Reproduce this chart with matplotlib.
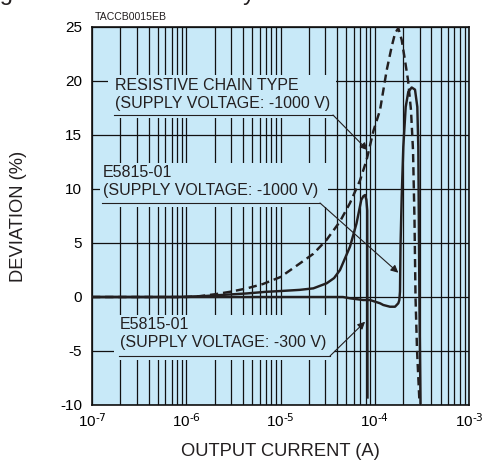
import matplotlib
matplotlib.use("Agg")
import matplotlib.pyplot as plt
from matplotlib.patches import Rectangle
from matplotlib.lines import Line2D
from matplotlib.ticker import LogLocator, NullFormatter, FixedLocator, FixedFormatter

plt.rcParams['font.family'] = ['Liberation Sans', 'DejaVu Sans']
plt.rcParams['mathtext.default'] = 'regular'
plt.rcParams['axes.unicode_minus'] = False

# resistive chain type, -1000 V (dashed)
res_x = [1e-7, 1e-6, 1.3e-6, 2e-6, 3e-6, 4.4e-6, 6.5e-6, 1e-5, 1.6e-5, 2.23e-5, 3.09e-5,
         4.28e-5, 5.46e-5, 6.98e-5, 8.2e-5, 9.7e-5, 1.137e-4, 1.339e-4, 1.514e-4, 1.64e-4,
         1.778e-4, 1.932e-4, 2.094e-4, 2.253e-4, 2.424e-4, 2.546e-4, 2.641e-4, 2.707e-4,
         2.808e-4, 2.984e-4]
res_y = [0, 0, 0.05, 0.25, 0.5, 0.8, 1.2, 1.85, 3.1, 4.0, 5.3,
         7.0, 8.7, 10.8, 12.7, 15.4, 17.3, 21.0, 23.2, 24.4,
         24.9, 23.8, 21.9, 20.1, 17.3, 13.6, 7.1, 0,
         -4.9, -9.8]

# E5815-01, -1000 V
e1000_x = [1e-7, 1e-5, 4.6e-5, 5.46e-5, 7.56e-5, 8.9e-5, 1.137e-4, 1.232e-4, 1.451e-4,
           1.64e-4, 1.778e-4, 1.822e-4, 1.853e-4, 1.876e-4, 1.932e-4, 2.009e-4, 2.13e-4,
           2.27e-4, 2.466e-4, 2.674e-4, 2.829e-4, 2.898e-4, 2.948e-4, 2.984e-4, 3.058e-4]
e1000_y = [0, 0, 0, -0.12, -0.28, -0.28, -0.58, -0.74, -0.9,
           -0.9, -0.58, -0.3, 0.5, 4.66, 9.3, 13.9, 17.6,
           19.0, 19.4, 19.2, 17.6, 13.9, 5.0, -1.2, -9.8]

# E5815-01, -300 V
e300_x = [1e-7, 8e-7, 1.5e-6, 2.5e-6, 4.4e-6, 7e-6, 9.9e-6, 1.6e-5, 2.23e-5, 3.09e-5,
          3.7e-5, 4.28e-5, 5.46e-5, 6.4e-5, 7.2e-5, 7.6e-5, 7.9e-5, 8.15e-5, 8.33e-5,
          8.36e-5, 8.38e-5]
e300_y = [0, 0, 0.08, 0.2, 0.33, 0.48, 0.55, 0.66, 0.8, 1.27,
          1.75, 2.5, 4.66, 6.8, 9.0, 9.35, 9.44, 9.0, 8.0,
          0, -9.3]

x_ticks = [1e-7, 1e-6, 1e-5, 1e-4, 1e-3]
x_labels = [r'$10^{\text{-7}}$', r'$10^{\text{-6}}$', r'$10^{\text{-5}}$',
            r'$10^{\text{-4}}$', r'$10^{\text{-3}}$']
y_ticks = [-10, -5, 0, 5, 10, 15, 20, 25]

bg = '#c8e9f8'
ink = '#231f20'

fig = plt.figure(figsize=(4.82, 4.62), dpi=100)
ax = fig.add_axes([92 / 482, 57 / 462, 377 / 482, 378 / 462])
ax.set_facecolor(bg)
ax.set_xscale('log')
ax.set_xlim(1e-7, 1e-3)
ax.set_ylim(-10, 25)
ax.set_yticks(y_ticks)
ax.xaxis.set_major_locator(FixedLocator(x_ticks))
ax.xaxis.set_major_formatter(FixedFormatter(x_labels))
ax.xaxis.set_minor_locator(LogLocator(base=10, subs=range(2, 10), numticks=50))
ax.xaxis.set_minor_formatter(NullFormatter())
ax.tick_params(which='both', length=0, labelsize=11)
ax.tick_params(axis='y', pad=7)
ax.tick_params(axis='x', pad=5)
ax.set_axisbelow(True)
ax.grid(True, which='both', axis='x', color='#111111', lw=0.9)
ax.grid(True, which='major', axis='y', color='#111111', lw=0.9)
for s in ax.spines.values():
    s.set_linewidth(1.2)
    s.set_color('#111111')


def px2ax(xp, yp):
    return ((xp - 92) / 377, (405 - yp) / 378)


# label boxes that hide the grid
for x0, y0, x1, y1 in [(108, 75, 336, 118), (100, 163, 328, 207), (114, 315, 334, 360)]:
    a = px2ax(x0, y1)
    b = px2ax(x1, y0)
    ax.add_patch(Rectangle(a, b[0] - a[0], b[1] - a[1], transform=ax.transAxes,
                           facecolor=bg, edgecolor='none', zorder=1))

ax.plot(res_x, res_y, color=ink, lw=1.75, dashes=(3.4, 2.0), zorder=3)
ax.plot(e1000_x, e1000_y, color=ink, lw=1.75, zorder=3)
ax.plot(e300_x, e300_y, color=ink, lw=1.75, zorder=3)

labels = [
    ('RESISTIVE CHAIN TYPE\n(SUPPLY VOLTAGE: -1000 V)', 115, 78, 115, 333, (8.38e-5, 13.6)),
    ('E5815-01\n(SUPPLY VOLTAGE: -1000 V)', 103, 165, 203, 320, (1.778e-4, 2.25)),
    ('E5815-01\n(SUPPLY VOLTAGE: -300 V)', 120, 317, 356, 330, (7.9e-5, -2.29)),
]
for txt, xl, yt, yu, xu, tip in labels:
    ax.text(*px2ax(xl, yt), txt, transform=ax.transAxes, ha='left', va='top',
            fontsize=11.5, linespacing=1.25, color=ink, zorder=4)
    p0 = px2ax(xl - 1, yu)
    p1 = px2ax(xu, yu)
    ax.add_line(Line2D([p0[0], p1[0]], [p0[1], p1[1]], transform=ax.transAxes,
                       color=ink, lw=0.8, zorder=4))
    ax.annotate('', xy=tip, xycoords='data', xytext=p1, textcoords='axes fraction',
                arrowprops=dict(arrowstyle='-|>', color=ink, lw=0.8, mutation_scale=11,
                                shrinkA=0, shrinkB=0), zorder=4)

fig.text(95 / 482, 1 - 16.5 / 462, 'TACCB0015EB', fontsize=7.6, ha='left', va='center', color=ink)
fig.text(18.5 / 482, 1 - 216 / 462, 'DEVIATION (%)', rotation=90, fontsize=13.2,
         ha='center', va='center', color=ink)
fig.text(280.5 / 482, 1 - 452 / 462, 'OUTPUT CURRENT (A)', fontsize=13.2,
         ha='center', va='center', color=ink)
# title of the page, cut off by the top edge
fig.text(-20 / 482, 1 + 0.5 / 462, 'Figure 8: Current Linearity', fontsize=17,
         ha='left', va='baseline', color=ink)

fig.savefig('out.png', dpi=100)
